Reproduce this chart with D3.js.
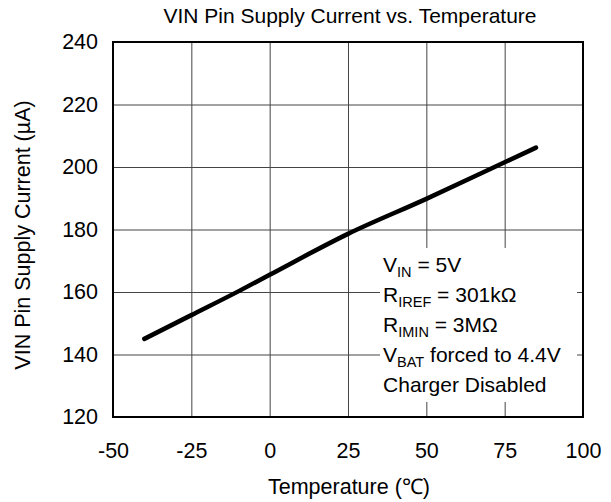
<!DOCTYPE html>
<html>
<head>
    <script src="https://d3js.org/d3.v7.min.js"></script>
    <style>
        body { margin: 0; background: #fff; }
        text { font-family: "Liberation Sans", Arial, sans-serif; fill: #000; }
        .grid line { stroke: #444; stroke-width: 1; }
        .grid .domain { display: none; }
        .ticks .domain, .ticks line { display: none; }
    </style>
</head>
<body>
<script>
    // data
    const temps = [-40, -25, -10, 0, 25, 50, 75, 85];
    const current = [145, 152.6, 160.2, 165.5, 178.6, 189.8, 201.5, 206.2];
    const xTicks = [-50, -25, 0, 25, 50, 75, 100];
    const yTicks = [120, 140, 160, 180, 200, 220, 240];
    const notes = [
        ["V", "IN", " = 5V"],
        ["R", "IREF", " = 301kΩ"],
        ["R", "IMIN", " = 3MΩ"],
        ["V", "BAT", " forced to 4.4V"],
        ["Charger Disabled", "", ""]
    ];

    const svg = d3.select("body").append("svg")
        .attr("width", 611)
        .attr("height", 502);

    const margins = {top: 42, right: 28, bottom: 85, left: 113};
    const chartWidth = 611 - margins.left - margins.right;
    const chartHeight = 502 - margins.top - margins.bottom;

    const chartArea = svg.append("g")
        .attr("transform", `translate(${margins.left},${margins.top})`);

    const xScale = d3.scaleLinear().domain([-50, 100]).range([0, chartWidth]);
    const yScale = d3.scaleLinear().domain([120, 240]).range([chartHeight, 0]);

    // gridlines
    chartArea.append("g")
        .attr("class", "grid")
        .attr("transform", `translate(0,${chartHeight})`)
        .call(d3.axisBottom(xScale).tickValues(xTicks).tickSize(-chartHeight).tickFormat(""));
    chartArea.append("g")
        .attr("class", "grid")
        .call(d3.axisLeft(yScale).tickValues(yTicks).tickSize(-chartWidth).tickFormat(""));

    // tick labels
    const xAxis = chartArea.append("g")
        .attr("class", "ticks")
        .attr("transform", `translate(0,${chartHeight})`)
        .call(d3.axisBottom(xScale).tickValues(xTicks).tickSize(0).tickPadding(26).tickFormat(d => String(d)));
    xAxis.selectAll("text").style("font-size", "21.5px").style("font-family", "Liberation Sans, Arial, sans-serif");

    const yAxis = chartArea.append("g")
        .attr("class", "ticks")
        .call(d3.axisLeft(yScale).tickValues(yTicks).tickSize(0).tickPadding(15));
    yAxis.selectAll("text").style("font-size", "21.5px").style("font-family", "Liberation Sans, Arial, sans-serif");

    // white box behind notes
    chartArea.append("rect")
        .attr("x", xScale(35.2))
        .attr("y", yScale(174.1))
        .attr("width", xScale(98.1) - xScale(35.2))
        .attr("height", yScale(124.8) - yScale(174.1))
        .attr("fill", "#fff");

    // line
    const line = d3.line()
        .x((d, i) => xScale(temps[i]))
        .y(d => yScale(d))
        .curve(d3.curveMonotoneX);
    chartArea.append("path")
        .datum(current)
        .attr("d", line)
        .attr("fill", "none")
        .attr("stroke", "#000")
        .attr("stroke-width", 4.5)
        .attr("stroke-linecap", "round");

    // frame
    chartArea.append("rect")
        .attr("width", chartWidth)
        .attr("height", chartHeight)
        .attr("fill", "none")
        .attr("stroke", "#000")
        .attr("stroke-width", 2);

    // notes
    notes.forEach(function(n, i) {
        const t = chartArea.append("text")
            .attr("x", xScale(36.2))
            .attr("y", yScale(166.4) + i * 30)
            .style("font-size", "21px");
        t.append("tspan").text(n[0]);
        if (n[1]) {
            t.append("tspan").attr("dy", 5).style("font-size", "14.5px").text(n[1]);
            t.append("tspan").attr("dy", -5).text(n[2]);
        }
    });

    // titles
    svg.append("text")
        .attr("x", 350)
        .attr("y", 23)
        .attr("text-anchor", "middle")
        .style("font-size", "21px")
        .text("VIN Pin Supply Current vs. Temperature");

    svg.append("text")
        .attr("x", 349)
        .attr("y", 494)
        .attr("text-anchor", "middle")
        .style("font-size", "21.5px")
        .text("Temperature (℃)");

    svg.append("text")
        .attr("transform", `translate(30,235) rotate(-90)`)
        .attr("text-anchor", "middle")
        .style("font-size", "21.5px")
        .text("VIN Pin Supply Current (µA)");
</script>
</body>
</html>
